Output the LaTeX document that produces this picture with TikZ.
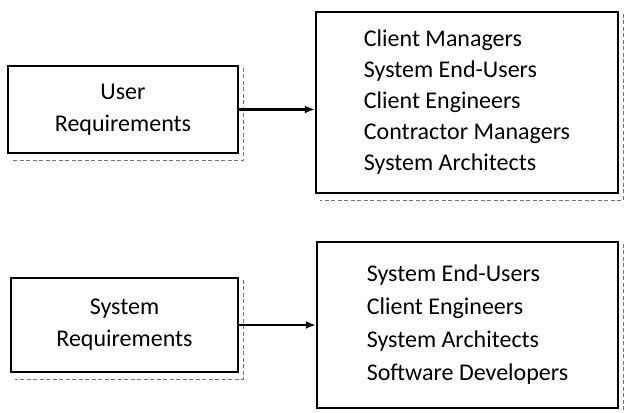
\documentclass[tikz,border=0pt]{standalone}
\usepackage{fontspec}
\setmainfont{Carlito}
\usetikzlibrary{arrows.meta,calc}
\begin{document}
\begin{tikzpicture}[x=1pt,y=1pt,
  box/.style={draw, line width=2.4pt, rectangle, inner sep=0pt},
  reqbox/.style={box, align=center, font=\fontsize{24}{32}\selectfont},
  listbox/.style={box, align=left},
  shadowline/.style={draw=black!55, line width=0.7pt, dash pattern=on 4pt off 2.5pt},
  link/.style={line width=2.2pt, -{Latex[length=10pt,width=8pt]}}]
\useasboundingbox (0,0) rectangle (625,413);

% requirement documents on the left
\node[reqbox, minimum width=230, minimum height=87] (ureq) at (123,303.5) {User\\Requirements};
\node[reqbox, minimum width=227, minimum height=94] (sreq) at (124.5,88) {System\\Requirements};

% reader lists on the right
\node[listbox, minimum width=302, minimum height=181, font=\fontsize{24}{31}\selectfont] (ureaders) at (467,310.5)
  {Client Managers\\System End-Users\\Client Engineers\\Contractor Managers\\System Architects};
\node[listbox, minimum width=301, minimum height=166, font=\fontsize{24}{33}\selectfont] (sreaders) at (467.5,88)
  {System End-Users\\Client Engineers\\System Architects\\Software Developers};

% faint drop-shadow outlines
\foreach \b in {ureq,sreq,ureaders,sreaders}{
  \draw[shadowline] ($(\b.north east)+(4,-3)$) -- ($(\b.south east)+(4,-6)$) -- ($(\b.south west)+(5,-6)$);
}

% connectors
\draw[link] (ureq.east) -- (ureq.east -| ureaders.west);
\draw[link] (sreq.east) -- (sreq.east -| sreaders.west);
\end{tikzpicture}
\end{document}
